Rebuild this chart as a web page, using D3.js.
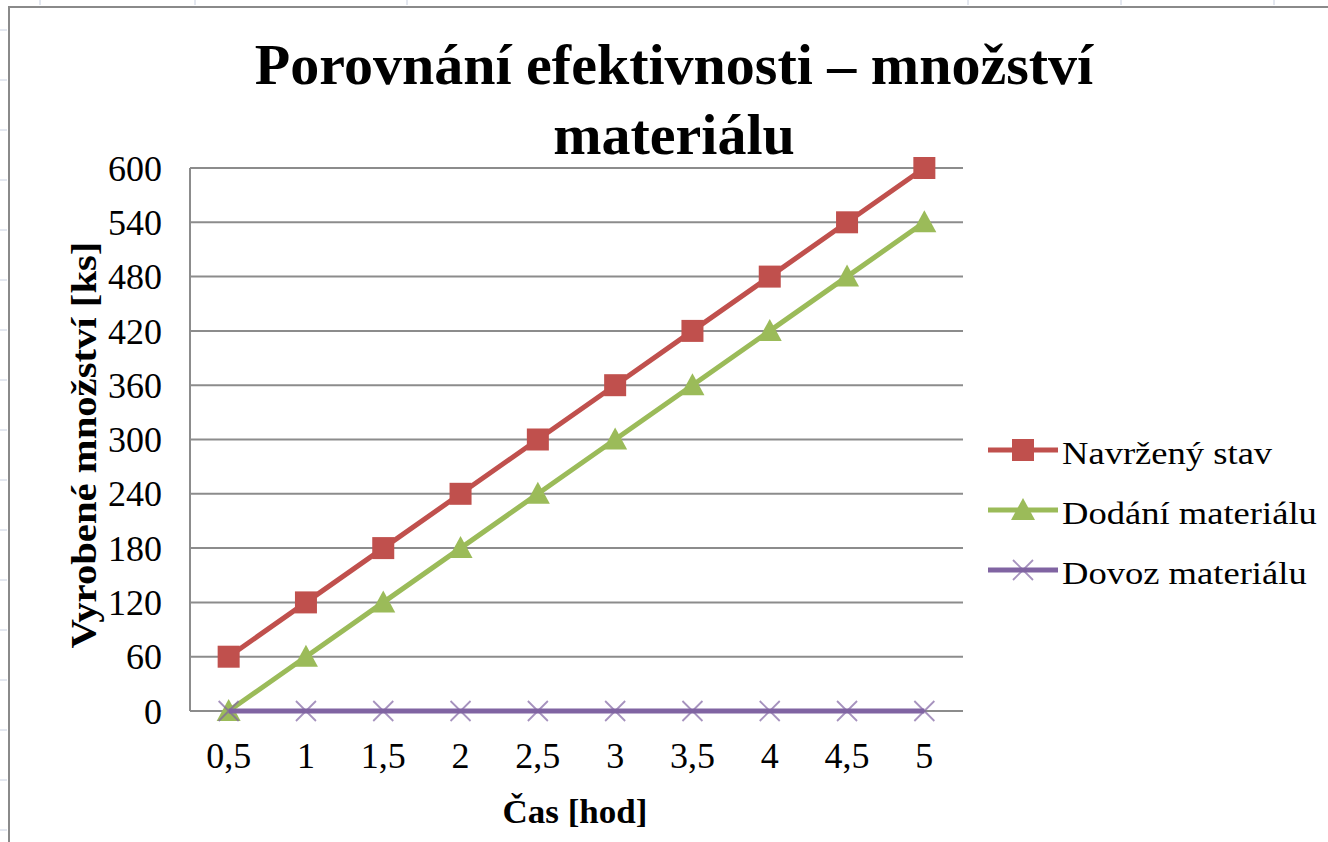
<!DOCTYPE html>
<meta charset="utf-8">
<script src="https://cdn.jsdelivr.net/npm/d3@7"></script>
<style>
body { margin: 0; background: #fff; }
text { font-family: "Liberation Serif", "Times New Roman", serif; fill: #000; }
.grid line { stroke: #8c8c8c; stroke-width: 2px; }
</style>
<body>
<script>

// data
var categories = ["0,5", "1", "1,5", "2", "2,5", "3", "3,5", "4", "4,5", "5"];
var navrzeny = [60, 120, 180, 240, 300, 360, 420, 480, 540, 600];
var dodani = [0, 60, 120, 180, 240, 300, 360, 420, 480, 540];
var dovoz = [0, 0, 0, 0, 0, 0, 0, 0, 0, 0];
var yTicks = [0, 60, 120, 180, 240, 300, 360, 420, 480, 540, 600];

var series = [
  {name: "Navržený stav", values: navrzeny, color: "#C0504D", marker: "square"},
  {name: "Dodání materiálu", values: dodani, color: "#9BBB59", marker: "triangle"},
  {name: "Dovoz materiálu", values: dovoz, color: "#8064A2", marker: "cross"}
];

var width = 1328,
    height = 842;

var svg = d3.select("body").append("svg")
    .attr("width", width)
    .attr("height", height);

// faint spreadsheet cells behind the chart
[40, 195, 407, 968, 1121, 1274].forEach(function(x) {
  svg.append("line").attr("x1", x).attr("x2", x).attr("y1", 0).attr("y2", 5)
    .attr("stroke", "#c8d0e0").attr("stroke-width", 1);
});
[30, 80, 130, 180, 230, 280, 330, 380, 430, 480, 530, 580, 630, 680, 730, 780, 830].forEach(function(y) {
  svg.append("line").attr("x1", 0).attr("x2", 7).attr("y1", y).attr("y2", y)
    .attr("stroke", "#c8d0e0").attr("stroke-width", 1);
});

// chart border
svg.append("path")
    .attr("d", "M9," + height + "V7H" + width)
    .attr("fill", "none")
    .attr("stroke", "#8a8a8a")
    .attr("stroke-width", 2);

var plot = {left: 190, right: 963, top: 168, bottom: 711};

var x = d3.scaleBand().domain(categories).range([plot.left, plot.right]);
var y = d3.scaleLinear().domain([0, 600]).range([plot.bottom, plot.top]);

// gridlines
svg.append("g").attr("class", "grid")
  .selectAll("line")
  .data(yTicks)
  .enter().append("line")
    .attr("x1", plot.left).attr("x2", plot.right)
    .attr("y1", function(d) { return y(d); })
    .attr("y2", function(d) { return y(d); });

svg.append("line")
    .attr("x1", plot.left).attr("x2", plot.left)
    .attr("y1", plot.top).attr("y2", plot.bottom)
    .attr("stroke", "#8c8c8c").attr("stroke-width", 2);

// y tick labels
svg.append("g").selectAll("text")
  .data(yTicks)
  .enter().append("text")
    .attr("x", 162)
    .attr("y", function(d) { return y(d); })
    .attr("dy", "0.35em")
    .attr("text-anchor", "end")
    .style("font-size", "36px")
    .text(function(d) { return d; });

// x tick labels
svg.append("g").selectAll("text")
  .data(categories)
  .enter().append("text")
    .attr("x", function(d) { return x(d) + x.bandwidth() / 2; })
    .attr("y", 768)
    .attr("text-anchor", "middle")
    .style("font-size", "36px")
    .text(function(d) { return d; });

// titles
var title = svg.append("text")
    .attr("text-anchor", "middle")
    .style("font-size", "58px")
    .style("font-weight", "bold");
title.append("tspan").attr("x", 674).attr("y", 84).text("Porovnání efektivnosti – množství");
title.append("tspan").attr("x", 674).attr("y", 154).text("materiálu");

svg.append("text")
    .attr("transform", "translate(575,823) scale(1.03,1)")
    .attr("text-anchor", "middle")
    .style("font-size", "34px")
    .style("font-weight", "bold")
    .text("Čas [hod]");

svg.append("text")
    .attr("transform", "translate(96,445) rotate(-90) scale(1.13,1)")
    .attr("text-anchor", "middle")
    .style("font-size", "36px")
    .style("font-weight", "bold")
    .text("Vyrobené množství [ks]");

function drawMarker(g, type, color) {
  if (type == "square") {
    g.append("rect").attr("x", -11).attr("y", -11).attr("width", 22).attr("height", 22)
      .attr("fill", color);
  } else if (type == "triangle") {
    g.append("path").attr("d", "M0,-12L12,10H-12Z").attr("fill", color);
  } else {
    g.append("path").attr("d", "M-10,-10L10,10M-10,10L10,-10")
      .attr("stroke", color).attr("stroke-opacity", 0.7).attr("stroke-width", 1.8)
      .attr("fill", "none");
  }
}

var line = d3.line()
    .x(function(d, i) { return x(categories[i]) + x.bandwidth() / 2; })
    .y(function(d) { return y(d); });

series.forEach(function(s) {
  svg.append("path")
      .datum(s.values)
      .attr("d", line)
      .attr("fill", "none")
      .attr("stroke", s.color)
      .attr("stroke-width", 5);
  s.values.forEach(function(v, i) {
    var g = svg.append("g")
        .attr("transform", "translate(" + (x(categories[i]) + x.bandwidth() / 2) + "," + y(v) + ")");
    drawMarker(g, s.marker, s.color);
  });
});

// legend
var legend = svg.append("g").selectAll("g")
  .data(series)
  .enter().append("g")
    .attr("transform", function(d, i) { return "translate(988," + (450 + i * 60) + ")"; });

legend.append("line")
    .attr("x1", 0).attr("x2", 70)
    .attr("stroke", function(d) { return d.color; })
    .attr("stroke-width", 5);

legend.each(function(d) {
  var g = d3.select(this).append("g").attr("transform", "translate(35,0)");
  drawMarker(g, d.marker, d.color);
});

legend.append("text")
    .attr("transform", "translate(74,0) scale(1.18,1)")
    .attr("dy", "0.45em")
    .style("font-size", "31px")
    .text(function(d) { return d.name; });

</script>
</body>
